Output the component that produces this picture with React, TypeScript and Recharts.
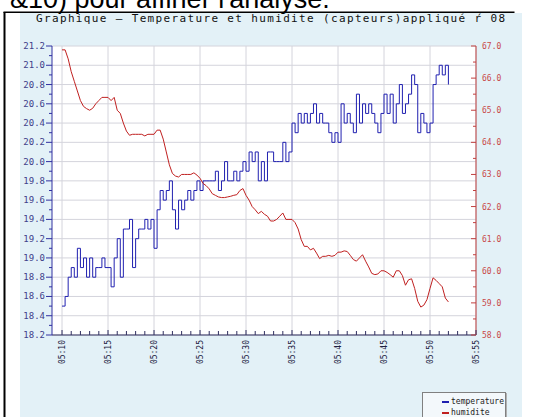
import { LineChart, Line, XAxis, YAxis, CartesianGrid } from 'recharts';

// readings every 20 seconds from 05:10:00
const SAMPLE_SECONDS = 20;

const temperature = [
  18.5, 18.6, 18.8, 18.9, 18.8, 19.1, 18.9, 19.0, 18.8, 19.0,
  18.8, 18.9, 18.9, 19.0, 18.9, 18.9, 18.7, 19.0, 19.2, 18.8,
  19.3, 19.3, 19.4, 18.9, 19.2, 19.3, 19.3, 19.4, 19.3, 19.4,
  19.1, 19.5, 19.7, 19.6, 19.7, 19.8, 19.5, 19.3, 19.6, 19.5,
  19.6, 19.7, 19.6, 19.7, 19.8, 19.7, 19.8, 19.8, 19.8, 19.8,
  19.9, 19.7, 19.8, 20.0, 19.8, 19.8, 19.9, 19.8, 19.9, 20.0,
  19.9, 20.1, 20.0, 20.1, 19.8, 20.0, 19.8, 20.1, 20.1, 20.0,
  20.0, 20.0, 20.2, 20.0, 20.1, 20.4, 20.3, 20.5, 20.4, 20.5,
  20.4, 20.5, 20.6, 20.4, 20.5, 20.4, 20.4, 20.3, 20.2, 20.3,
  20.2, 20.6, 20.4, 20.5, 20.4, 20.3, 20.7, 20.4, 20.6, 20.5,
  20.6, 20.5, 20.4, 20.3, 20.5, 20.7, 20.5, 20.7, 20.4, 20.6,
  20.8, 20.5, 20.6, 20.7, 20.9, 20.8, 20.3, 20.5, 20.4, 20.3,
  20.4, 20.8, 20.9, 21.0, 20.9, 21.0, 20.8,
];

const humidite = [
  66.88, 66.88, 66.6, 66.2, 65.9, 65.6, 65.3, 65.12, 65.05, 65.0,
  65.06, 65.2, 65.3, 65.4, 65.4, 65.4, 65.3, 65.4, 65.0, 64.9,
  64.6, 64.35, 64.22, 64.25, 64.25, 64.25, 64.25, 64.2, 64.25, 64.25,
  64.25, 64.38, 64.38, 64.1, 63.7, 63.3, 63.03, 62.95, 62.92, 63.0,
  63.0, 63.0, 63.0, 63.05, 62.98, 62.88, 62.72, 62.65, 62.55, 62.4,
  62.35, 62.3, 62.28, 62.28, 62.3, 62.32, 62.35, 62.37, 62.5, 62.56,
  62.35, 62.2, 62.0, 61.9, 61.78, 61.85, 61.76, 61.7, 61.55, 61.55,
  61.6, 61.7, 61.8, 61.6, 61.6, 61.6, 61.5, 61.3, 60.97, 60.76,
  60.76, 60.65, 60.7, 60.55, 60.38, 60.45, 60.45, 60.48, 60.45, 60.48,
  60.58, 60.58, 60.62, 60.6, 60.48, 60.35, 60.3, 60.4, 60.5, 60.3,
  60.12, 59.92, 59.88, 59.9, 60.0, 60.0, 59.95, 59.88, 59.8, 60.0,
  60.0, 59.85, 59.55, 59.72, 59.75, 59.45, 59.05, 58.87, 58.93, 59.1,
  59.45, 59.78, 59.7, 59.6, 59.5, 59.15, 59.03,
];

const tempTicks = Array.from({ length: 31 }, (_, i) => (182 + i) / 10);
const humTicks = Array.from({ length: 19 }, (_, i) => 58 + i / 2);
const minuteTicks = Array.from({ length: 46 }, (_, i) => i);
const tempGrid = tempTicks.filter((_, i) => i % 2 === 0);
const minuteGrid = minuteTicks.filter((m) => m % 5 === 0);

const data = temperature.map((t, i) => ({
  m: (i * SAMPLE_SECONDS) / 60,
  temperature: t,
  humidite: humidite[i],
}));

const MONO = 'DejaVu Sans Mono';

const TempTick = (props: any) => {
  const { x, y, payload } = props;
  const v = payload.value;
  const major = Math.round(v * 10) % 2 === 0;
  return (
    <g>
      <line x1={x - (major ? 6 : 3)} y1={y} x2={x} y2={y} stroke="#3030a0" />
      {major && (
        <text x={x - 7} y={y} dy={3} textAnchor="end" fontSize={9} fontFamily={MONO} fill="#40408a">
          {v.toFixed(1)}
        </text>
      )}
    </g>
  );
};

const HumTick = (props: any) => {
  const { x, y, payload } = props;
  const v = payload.value;
  const major = Number.isInteger(v);
  return (
    <g>
      <line x1={x - (major ? 5 : 3)} y1={y} x2={x} y2={y} stroke="#c04040" />
      {major && (
        <text x={x + 6} y={y} dy={3} textAnchor="start" fontSize={8} fontFamily={MONO} fill="#c84848">
          {v.toFixed(1)}
        </text>
      )}
    </g>
  );
};

const TimeTick = (props: any) => {
  const { x, y, payload } = props;
  const m = payload.value;
  const major = m % 5 === 0;
  return (
    <g>
      <line x1={x} y1={y} x2={x} y2={y - (major ? 5 : 4)} stroke="#303060" />
      {major && (
        <text
          x={x + 3}
          y={y + 5}
          textAnchor="end"
          fontSize={8}
          fontFamily={MONO}
          fill="#202040"
          transform={`rotate(-90 ${x + 3} ${y + 5})`}
        >
          {`05:${10 + m}`}
        </text>
      )}
    </g>
  );
};

export default function App() {
  return (
    <div style={{ position: 'fixed', left: 0, top: 0, width: 534, height: 417, overflow: 'hidden', background: '#fff' }}>
      <svg width={534} height={417} style={{ position: 'absolute', left: 0, top: 0 }}>
        <rect x={20} y={13} width={502} height={404} fill="#e3f1f7" />
        <text x={10} y={8} fontFamily="Liberation Sans" fontSize={27} fill="#000">
          {"&10) pour affiner l'analyse."}
        </text>
        <rect x={3.5} y={12} width={2} height={405} fill="#000" />
        <rect x={3.5} y={11.5} width={511} height={1.5} fill="#000" />
        <text x={36} y={22} fontFamily={MONO} fontSize={11} letterSpacing={1.35} fill="#111">
          Graphique – Temperature et humidite (capteurs)appliqué ŕ 08
        </text>
      </svg>
      <div style={{ position: 'absolute', left: 0, top: 0 }}>
        <LineChart width={534} height={417} data={data} margin={{ top: 46, right: 0, bottom: 42, left: 0 }}>
          <CartesianGrid
            yAxisId="t"
            fill="#fff"
            stroke="#d4d4dc"
            horizontalValues={tempGrid}
            verticalValues={minuteGrid}
          />
          <XAxis
            dataKey="m"
            type="number"
            domain={[-1.09, 45]}
            ticks={minuteTicks}
            interval={0}
            height={40}
            tickSize={0}
            tickMargin={0}
            tickLine={false}
            axisLine={{ stroke: '#303060' }}
            tick={TimeTick}
          />
          <YAxis
            yAxisId="t"
            orientation="left"
            width={52}
            domain={[18.2, 21.2]}
            ticks={tempTicks}
            interval={0}
            tickSize={0}
            tickMargin={0}
            tickLine={false}
            axisLine={{ stroke: '#3030a0' }}
            tick={TempTick}
          />
          <YAxis
            yAxisId="h"
            orientation="right"
            width={58}
            domain={[58, 67]}
            ticks={humTicks}
            interval={0}
            tickSize={0}
            tickMargin={0}
            tickLine={false}
            axisLine={{ stroke: '#c04040' }}
            tick={HumTick}
          />
          <Line
            yAxisId="t"
            type="stepAfter"
            dataKey="temperature"
            stroke="#2020b0"
            strokeWidth={1}
            dot={false}
            activeDot={false}
            isAnimationActive={false}
          />
          <Line
            yAxisId="h"
            type="linear"
            dataKey="humidite"
            stroke="#c02020"
            strokeWidth={1}
            dot={false}
            activeDot={false}
            isAnimationActive={false}
          />
        </LineChart>
      </div>
      <div
        style={{
          position: 'absolute',
          left: 422,
          top: 392,
          width: 84,
          height: 40,
          border: '1px solid #808080',
          background: '#f3f8fb',
          boxShadow: '1px 1px 0 #b0b0b0',
          fontFamily: MONO,
          fontSize: 8,
          lineHeight: '10px',
          boxSizing: 'border-box',
          paddingTop: 4,
        }}
      >
        {[
          { name: 'temperature', color: '#2020b0' },
          { name: 'humidite', color: '#c02020' },
        ].map((e) => (
          <div key={e.name} style={{ display: 'flex', alignItems: 'center', marginLeft: 19, height: 10.5 }}>
            <span style={{ display: 'inline-block', width: 7, height: 2, background: e.color, marginRight: 2 }} />
            <span style={{ color: '#222' }}>{e.name}</span>
          </div>
        ))}
      </div>
    </div>
  );
}
